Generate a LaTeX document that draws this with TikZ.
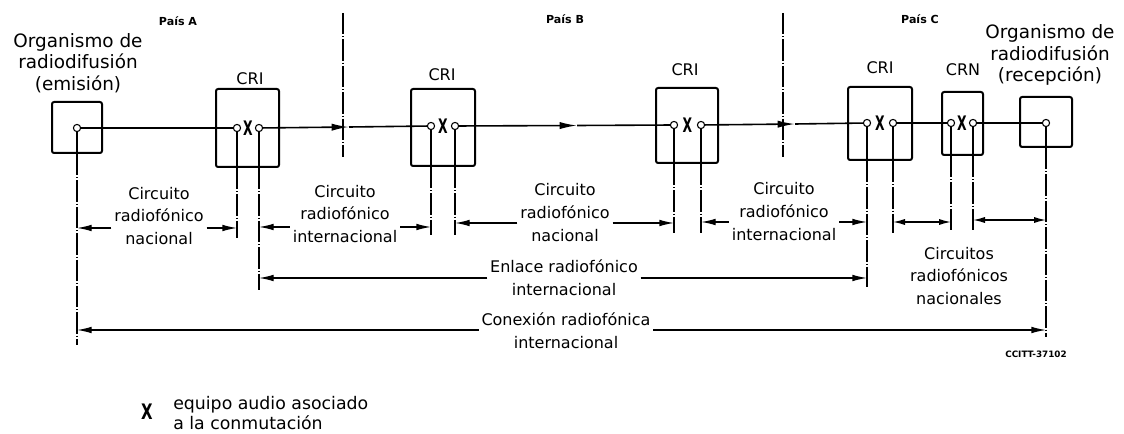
\documentclass[tikz,border=0pt]{standalone}
\usepackage{fontspec}
\setsansfont{DejaVu Sans}
\usepackage{graphicx}
\usetikzlibrary{arrows.meta,positioning,calc}
\tikzset{
  block/.style 2 args={draw, line width=1.5pt, rounded corners=1.6pt, minimum width=#1, minimum height=#2, inner sep=0pt},
  port/.style={circle, draw, fill=white, line width=0.8pt, minimum size=5.4pt, inner sep=0pt},
  sw/.style={inner sep=0pt, font=\sffamily\bfseries\fontsize{15}{15}\selectfont},
  country/.style={font=\sffamily\bfseries\fontsize{8.3}{9}\selectfont},
  unit/.style={inner sep=1pt, font=\sffamily\fontsize{12}{14}\selectfont},
  org/.style={align=center, font=\sffamily\fontsize{13.8}{16.2}\selectfont},
  dimtext/.style={align=center, inner sep=2pt, font=\sffamily\fontsize{12}{17}\selectfont},
  wire/.style={line width=1.2pt},
  thinline/.style={line width=0.8pt},
  chain/.style={line width=0.8pt, dash pattern=on 16pt off 1.5pt on 0.8pt off 1.5pt},
  arr/.style={-{Latex[length=11pt,width=5pt]}, line width=1pt},
  both/.style={{Latex[length=9pt,width=4.6pt]}-{Latex[length=9pt,width=4.6pt]}, line width=1pt},
  flow/.style={wire, -{Latex[length=13pt,width=5.4pt]}}
}

\begin{document}
\begin{tikzpicture}[x=0.75pt, y=-0.75pt, font=\sffamily]
  \fill[white, use as bounding box] (0,0) rectangle (1124,434);

  % country borders
  \draw[chain] (343,13) -- (343,157);
  \draw[chain] (783,13) -- (783,157);
  \node[country] (paisA) at (178,21) {País A};
  \node[country] (paisB) at (565,19) {País B};
  \node[country] (paisC) at (920,19) {País C};

  % boxes
  \node[block={37.5pt}{38.25pt}] (emit) at (77,127.5) {};
  \node[block={47.25pt}{58.5pt}] (cri1) at (247.5,128) {};
  \node[block={48pt}{57.75pt}] (cri2) at (443,127.5) {};
  \node[block={46.5pt}{56.25pt}] (cri3) at (687,125.5) {};
  \node[block={48pt}{54.75pt}] (cri4) at (880,123.5) {};
  \node[block={30.75pt}{47.25pt}] (crn) at (962.5,123.5) {};
  \node[block={39pt}{37.5pt}] (recv) at (1046,122) {};

  \node[org] (emitlbl) at (78,63) {Organismo de\\radiodifusión\\(emisión)};
  \node[org] (recvlbl) at (1050,55) {Organismo de\\radiodifusión\\(recepción)};
  \node[unit] at (250,79) {CRI};
  \node[unit] at (442,75) {CRI};
  \node[unit] at (685,70) {CRI};
  \node[unit] at (880,68) {CRI};
  \node[unit] at (963,70) {CRN};

  % ports and switches
  \node[port] (emitC) at (77,128) {};
  \node[port] (cri1L) at (237,128) {};
  \node[port] (cri1R) at (259,128) {};
  \node[port] (cri2L) at (431,126) {};
  \node[port] (cri2R) at (455,126) {};
  \node[port] (cri3L) at (674,125) {};
  \node[port] (cri3R) at (701,125) {};
  \node[port] (cri4L) at (867,123) {};
  \node[port] (cri4R) at (893,123) {};
  \node[port] (crnL) at (951,123) {};
  \node[port] (crnR) at (973,123) {};
  \node[port] (recvC) at (1046,123) {};
  \foreach \a/\b/\n in {cri1L/cri1R/x1, cri2L/cri2R/x2, cri3L/cri3R/x3, cri4L/cri4R/x4, crnL/crnR/x5}
    \node[sw] (\n) at ($(\a)!0.5!(\b)$) {\scalebox{0.62}[1]{X}};

  % main line
  \coordinate (mA) at (349,127);
  \coordinate (mB) at (577,125.5);
  \coordinate (mC) at (795,124);
  \draw[wire] (emitC) -- (cri1L);
  \draw[flow] (cri1R) -- (mA);
  \draw[wire] (mA) -- (cri2L);
  \draw[flow] (cri2R) -- (mB);
  \draw[wire] (mB) -- (cri3L);
  \draw[flow] (cri3R) -- (mC);
  \draw[wire] (mC) -- (cri4L);
  \draw[wire] (cri4R) -- (crnL);
  \draw[wire] (crnR) -- (recvC);

  % drop lines
  \foreach \p/\b/\e in {emitC/emit/345, cri1L/cri1/238, cri1R/cri1/290, cri2L/cri2/235, cri2R/cri2/235,
      cri3L/cri3/233, cri3R/cri3/233, cri4L/cri4/287, cri4R/cri4/233, crnL/crn/232, crnR/crn/230, recvC/recv/337} {
    \draw[thinline] (\p.south) -- (\p |- \b.south);
    \draw[chain] (\p |- \b.south) -- (\p |- 0,\e);
  }

  % circuits
  \node[dimtext] (d1) at (159,216) {Circuito\\radiofónico\\nacional};
  \node[dimtext] (d2) at (345,214) {Circuito\\radiofónico\\internacional};
  \node[dimtext] (d3) at (565,212.5) {Circuito\\radiofónico\\nacional};
  \node[dimtext] (d4) at (784,211.5) {Circuito\\radiofónico\\internacional};
  \node[dimtext] (dn) at (959,276) {Circuitos\\radiofónicos\\nacionales};
  \draw[arr] (d1.west |- 0,228) -- (emitC |- 0,228);
  \draw[arr] (d1.east |- 0,228) -- (cri1L |- 0,228);
  \draw[arr] (d2.west |- 0,227) -- (cri1R |- 0,227);
  \draw[arr] (d2.east |- 0,227) -- (cri2L |- 0,227);
  \draw[arr] (d3.west |- 0,223) -- (cri2R |- 0,223);
  \draw[arr] (d3.east |- 0,223) -- (cri3L |- 0,223);
  \draw[arr] (d4.west |- 0,222) -- (cri3R |- 0,222);
  \draw[arr] (d4.east |- 0,222) -- (cri4L |- 0,222);
  \draw[both] (cri4R |- 0,222) -- (crnL |- 0,222);
  \draw[both] (crnR |- 0,220) -- (recvC |- 0,220);

  % link and connection
  \node[dimtext] (enl) at (564,277.5) {Enlace radiofónico\\internacional};
  \draw[arr] (enl.west |- 0,278) -- (cri1R |- 0,278);
  \draw[arr] (enl.east |- 0,278) -- (cri4L |- 0,278);
  \node[dimtext] (con) at (566,330.5) {Conexión radiofónica\\internacional};
  \draw[arr] (con.west |- 0,330) -- (emitC |- 0,330);
  \draw[arr] (con.east |- 0,330) -- (recvC |- 0,330);

  \node[font=\sffamily\bfseries\fontsize{6.6}{8}\selectfont] (ref) at (1036,354) {CCITT-37102};

  % legend
  \node[font=\sffamily\bfseries\fontsize{16}{16}\selectfont, inner sep=0pt] (keyX) at (147,412) {\scalebox{0.7}[1]{X}};
  \node[anchor=west, align=left, inner sep=0pt, font=\sffamily\fontsize{13}{15}\selectfont] (keytxt) at (173,413)
    {equipo audio asociado\\a la conmutación};
\end{tikzpicture}
\end{document}
